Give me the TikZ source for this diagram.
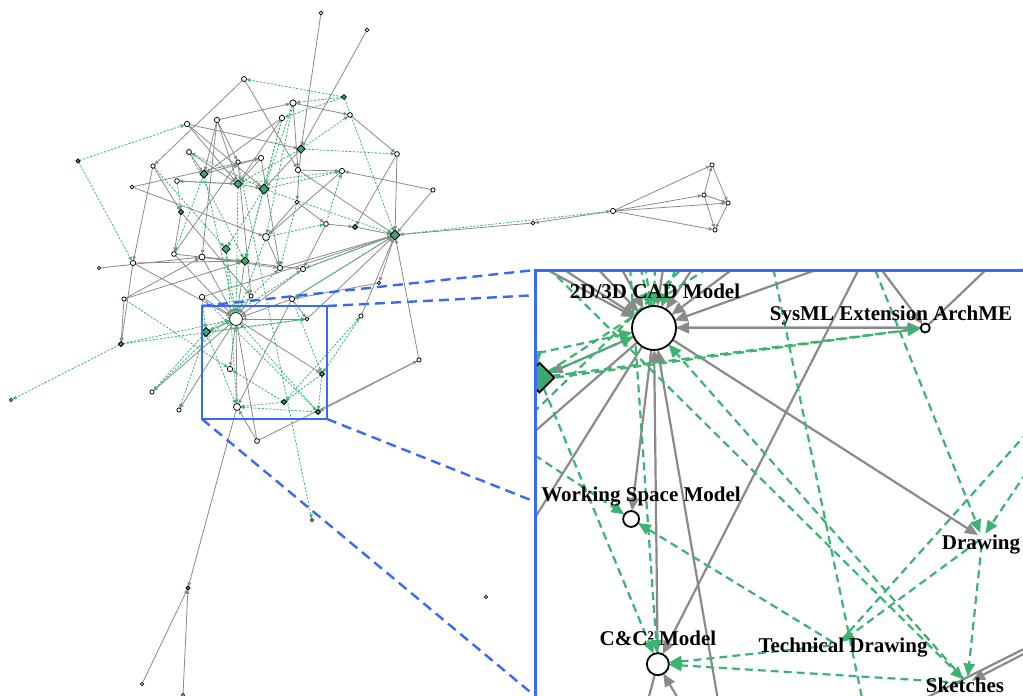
\documentclass[tikz,border=0pt]{standalone}
\usepackage{fontspec}
\setmainfont{Liberation Serif}
\usetikzlibrary{arrows.meta,shapes.geometric}
\definecolor{eg}{RGB}{138,138,138}
\definecolor{eg2}{RGB}{60,179,113}
\definecolor{df}{RGB}{58,168,112}
\definecolor{bl}{RGB}{55,105,250}
\def\circlist{n1/321/13/1.8, n2/367/30/1.8, n3/244/79/2.5, n5/293/103/3.1, n6/282/118/2.7, n7/350/115/2.4, n8/187/124/2.6, n9/217/120/2.6, n11/397/154/2.4, n13/189/152/2.5, n14/261/158/2.6, n15/238/162/2.2, n16/153/166/2.2, n17/298/170/2.6, n18/342/171/2.6, n20/177/181/2.4, n23/132/187/1.9, n24/433/190/2.1, n26/297/202/1.9, n27/326/224/2.4, n30/266/237/3.5, n33/174/254/2.4, n34/202/257/3, n35/133/263/2.6, n36/99/268/1.7, n37/280/268/2.6, n38/303/269/2.6, n39/379/283/1.7, n40/124/299/2.1, n41/202/297/2.6, n42/251/296/2.1, n43/292/299/2.6, n44/236/319/6.4, n46/307/319/1.8, n47/361/316/2.1, n49/419/360/2.1, n50/230/369/2.7, n52/11/400/1.7, n53/152/392/2.1, n55/179/410/2.1, n56/237/407/3.5, n58/257/441/2.4, n59/312/520/1.7, n61/142/684/1.7, n62/183/695/1.7, n63/486/597/1.7, n64/533/223/1.8, n65/613/211/2.6, n66/712/165/2.1, n67/704/195/2.1, n68/728/203/2.1, n69/715/230/2.1}
\def\diamlist{n4/344/97/2.3, n10/301/149/4, n12/78/161/2, n19/204/174/4, n21/238/184/4.2, n22/264/189/5, n25/181/212/2.5, n28/355/227/2.5, n29/395/235/5, n31/226/249/4.2, n32/245/261/4.2, n45/206/332/4.5, n48/121/344/2.5, n60/188/588/2}
\def\ldiamlist{n51/322/374/2.5, n54/284/402/2.5, n57/318/412/2.5}
\def\grayedges{n1/n10, n2/n10, n3/n16, n3/n17, n9/n5, n5/n7, n7/n11, n8/n10, n5/n17, n9/n19, n9/n21, n9/n34, n8/n21, n8/n22, n13/n19, n13/n21, n23/n14, n23/n30, n20/n21, n19/n14, n14/n21, n21/n22, n6/n21, n10/n22, n10/n26, n16/n25, n16/n35, n17/n18, n17/n29, n18/n30, n24/n18, n24/n29, n11/n29, n11/n28, n28/n29, n27/n28, n27/n38, n29/n39, n47/n29, n49/n29, n64/n29, n65/n64, n65/n66, n65/n67, n65/n68, n65/n69, n67/n66, n66/n68, n67/n68, n67/n69, n68/n69, n37/n29, n38/n29, n43/n29, n41/n29, n38/n44, n42/n44, n41/n44, n34/n44, n33/n44, n35/n44, n32/n44, n43/n44, n44/n45, n44/n46, n46/n44, n44/n50, n56/n44, n58/n44, n44/n51, n44/n53, n44/n55, n43/n46, n43/n56, n46/n29, n49/n57, n58/n49, n58/n56, n56/n60, n61/n60, n62/n60, n35/n48, n40/n48, n40/n34, n40/n32, n36/n34, n35/n32, n25/n33, n25/n42, n33/n15, n34/n32, n26/n30, n39/n43, n14/n37, n15/n42, n9/n15, n6/n19, n30/n37, n34/n37, n33/n38, n26/n27}
\def\greenedges{n4/n3, n4/n5, n4/n6, n4/n29, n12/n8, n12/n35, n10/n11, n10/n7, n6/n22, n5/n22, n10/n21, n22/n13, n22/n18, n22/n29, n21/n20, n16/n31, n13/n32, n22/n31, n22/n32, n31/n44, n21/n44, n30/n44, n19/n44, n48/n44, n48/n46, n48/n52, n45/n44, n45/n46, n45/n53, n45/n56, n45/n55, n40/n50, n41/n57, n43/n51, n47/n51, n54/n47, n51/n57, n51/n54, n54/n50, n54/n56, n57/n56, n57/n44, n31/n56, n15/n59, n21/n18, n29/n38, n29/n65, n30/n27, n27/n18, n41/n45, n45/n38, n53/n37, n6/n32, n5/n30, n29/n43, n26/n37, n20/n25, n19/n33}
\newcommand\drawgraph{%
  \foreach \nn/\xx/\yy/\rr in \circlist {\node[cn=\rr, ghost] (\p\nn) at (\xx,\yy) {};}
  \foreach \nn/\xx/\yy/\rr in \diamlist {\node[dn=\rr, ghost] (\p\nn) at (\xx,\yy) {};}
  \foreach \nn/\xx/\yy/\rr in \ldiamlist {\node[dn=\rr, ghost] (\p\nn) at (\xx,\yy) {};}
  \foreach \aa/\bb in \grayedges {\draw[ge] (\p\aa) -- (\p\bb);}
  \foreach \aa/\bb in \greenedges {\draw[gd] (\p\aa) -- (\p\bb);}
  \foreach \nn/\xx/\yy/\rr in \circlist {\node[cn=\rr] (\p\nn v) at (\xx,\yy) {};}
  \foreach \nn/\xx/\yy/\rr in \diamlist {\node[dn=\rr] (\p\nn v) at (\xx,\yy) {};}
  \foreach \nn/\xx/\yy/\rr in \ldiamlist {\node[ldn=\rr] (\p\nn v) at (\xx,\yy) {};}
}
\begin{document}
\begin{tikzpicture}[x=1pt,y=-1pt,
  cn/.style={circle, draw=black, fill=white, line width=\nlw, inner sep=0pt, outer sep=0pt, minimum size={2*(\fa*#1+\fb)}},
  dn/.style={diamond, draw=black, fill=df, line width=\nlw, inner sep=0pt, outer sep=0pt, minimum size={2*(\fa*#1+\fb)}},
  ghost/.style={draw=none, fill=none},
  ge/.style={draw=eg, line width=\elw, -{Triangle[length=\tl, width=\tw]}},
  gd/.style={draw=eg2, line width=\elw, dash pattern=on \don off \doff, -{Triangle[length=\tl, width=\tw]}},
  lab/.style={font=\fontsize{21}{21}\selectfont\bfseries, anchor=base, inner sep=0pt},
  bluebox/.style={draw=bl, line width=2.6pt},
  bluedash/.style={draw=bl, line width=2.4pt, dash pattern=on 10pt off 6pt}]
\useasboundingbox (0,0) rectangle (1023,696);
% overview
\begin{scope}[ldn/.style={dn=#1}]
  \def\fa{1}\def\fb{0}\def\nlw{0.75pt}\def\elw{0.8pt}\def\tl{4pt}\def\tw{3.5pt}\def\don{2.2pt}\def\doff{1.5pt}\def\p{o}
  \drawgraph
\end{scope}
% zoom frame and connectors
\coordinate (bA) at (202,306);
\coordinate (bB) at (327,306);
\coordinate (bC) at (202,419);
\coordinate (bD) at (327,419);
\coordinate (iA) at (535,270);
\coordinate (iB) at (1023,270);
\coordinate (iC) at (535,696);
\coordinate (iD) at (1023,696);
\draw[bluebox] (bA) rectangle (bD);
\draw[bluedash] (bA) -- (iA);
\draw[bluedash] (bB) -- (iB);
\draw[bluedash] (bC) -- (iC);
\draw[bluedash] (bD) -- (iD);
% inset
\begin{scope}
  \clip (535,270) rectangle (1023,696);
  \fill[white] (535,270) rectangle (1023,696);
  \begin{scope}[shift={(-247.5,-890.6)}, scale=3.82, ldn/.style={dn=#1, ghost}]
    \def\fa{3.8}\def\fb{-2.3}\def\nlw{1.8pt}\def\elw{2.2pt}\def\tl{13pt}\def\tw{11pt}\def\don{8pt}\def\doff{5pt}\def\p{i}
    \drawgraph
  \end{scope}
  \node[lab] (l1) at (655,298) {2D/3D CAD Model};
  \node[lab] (l2) at (891,320) {SysML Extension ArchME};
  \node[lab] (l3) at (641,501) {Working Space Model};
  \node[lab] (l4) at (981,549) {Drawing};
  \node[lab] (l5) at (658,645) {C\&C² Model};
  \node[lab] (l6) at (843,652) {Technical Drawing};
  \node[lab] (l7) at (965,692) {Sketches};
\end{scope}
\draw[bluebox, line width=3pt] (1030,270) -- (535,270) -- (535,703);
\end{tikzpicture}
\end{document}
